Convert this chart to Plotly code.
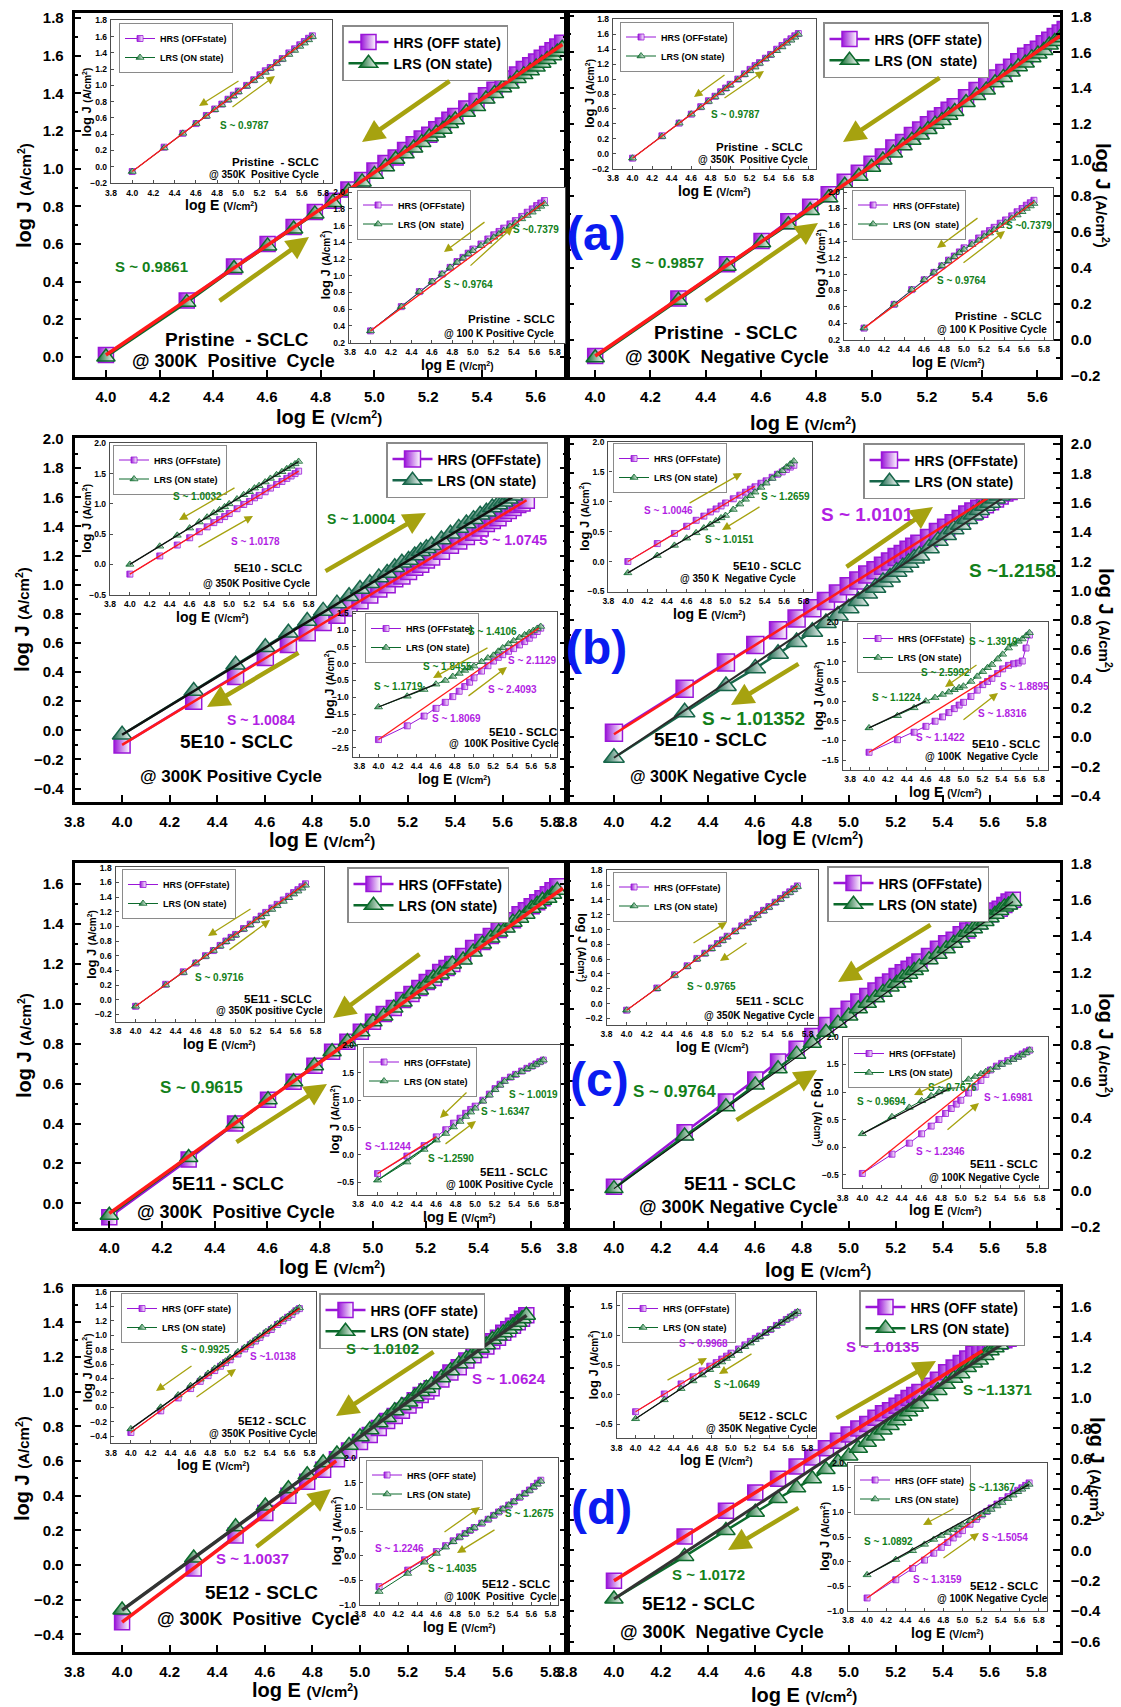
import plotly.graph_objects as go

W, H = 1121, 1707
FONT = "Liberation Sans, Arial, Helvetica, sans-serif"
PURPLE = "#9a16d8"
PURPLE_TXT = "#b21fe3"
GREEN = "#0c6a2c"
GREEN_B = "#17664a"
GREEN_TXT = "#13801a"
OLIVE = "#a6a20f"
RED = "#ff1a1a"
DARK = "#2b2b2b"
BLUE = "#0a1bf0"

# ---------------- log E grids (log10 of 1e4 ... 5e5 V/cm) ----------------
LOGE_MAIN = [4.0, 4.301, 4.477, 4.602, 4.699, 4.778, 4.845, 4.903, 4.954, 5.0,
             5.041, 5.079, 5.114, 5.146, 5.176, 5.204, 5.230, 5.255, 5.279, 5.301,
             5.342, 5.380, 5.415, 5.447, 5.477, 5.505, 5.531, 5.556, 5.580, 5.602,
             5.623, 5.643, 5.663, 5.681, 5.699]
LOGE_INSET = [4.0, 4.301, 4.477, 4.602, 4.699, 4.778, 4.845, 4.903, 4.954, 5.0,
              5.079, 5.146, 5.204, 5.255, 5.301, 5.362, 5.415, 5.477, 5.531, 5.580,
              5.623, 5.663, 5.699]

# ---------------- (a) Pristine ----------------
HRS_A_L = [0.01, 0.30, 0.48, 0.60, 0.69, 0.77, 0.83, 0.89, 0.94, 0.99, 1.03, 1.06, 1.10, 1.13, 1.16, 1.18, 1.21, 1.23, 1.26, 1.28,
           1.32, 1.36, 1.39, 1.42, 1.45, 1.48, 1.50, 1.53, 1.55, 1.57, 1.59, 1.61, 1.63, 1.65, 1.67]
LRS_A_L = [0.00, 0.29, 0.47, 0.59, 0.68, 0.76, 0.82, 0.88, 0.93, 0.97, 1.01, 1.05, 1.08, 1.11, 1.14, 1.17, 1.19, 1.21, 1.24, 1.26,
           1.30, 1.33, 1.37, 1.40, 1.43, 1.45, 1.48, 1.50, 1.52, 1.54, 1.56, 1.58, 1.60, 1.62, 1.64]
HRS_A_R = [-0.09, 0.23, 0.42, 0.55, 0.66, 0.74, 0.81, 0.88, 0.93, 0.98, 1.02, 1.07, 1.10, 1.14, 1.17, 1.20, 1.23, 1.25, 1.28, 1.30,
           1.35, 1.39, 1.42, 1.46, 1.49, 1.52, 1.55, 1.58, 1.60, 1.62, 1.65, 1.67, 1.69, 1.71, 1.73]
LRS_A_R = [-0.10, 0.22, 0.41, 0.54, 0.64, 0.72, 0.79, 0.86, 0.91, 0.96, 1.00, 1.04, 1.08, 1.11, 1.14, 1.17, 1.20, 1.22, 1.25, 1.27,
           1.32, 1.36, 1.39, 1.43, 1.46, 1.49, 1.52, 1.54, 1.57, 1.59, 1.61, 1.64, 1.66, 1.68, 1.70]
HRS_A_350 = [-0.06, 0.24, 0.41, 0.53, 0.63, 0.71, 0.77, 0.83, 0.88, 0.93, 1.00, 1.07, 1.13, 1.18, 1.22, 1.28, 1.33, 1.40, 1.45, 1.50, 1.54, 1.58, 1.61]
LRS_A_350 = [-0.06, 0.23, 0.41, 0.53, 0.62, 0.70, 0.76, 0.82, 0.87, 0.92, 0.99, 1.06, 1.11, 1.16, 1.21, 1.27, 1.32, 1.38, 1.43, 1.48, 1.52, 1.56, 1.60]
HRS_A_100 = [0.34, 0.63, 0.81, 0.93, 1.02, 1.10, 1.17, 1.22, 1.27, 1.32, 1.38, 1.44, 1.49, 1.53, 1.57, 1.62, 1.66, 1.71, 1.76, 1.80, 1.84, 1.87, 1.90]
LRS_A_100 = [0.34, 0.63, 0.81, 0.93, 1.02, 1.10, 1.16, 1.21, 1.26, 1.30, 1.36, 1.41, 1.46, 1.50, 1.54, 1.59, 1.63, 1.68, 1.72, 1.76, 1.80, 1.83, 1.86]

# ---------------- (b) 5E10 ----------------
HRS_B_L = [-0.10, 0.20, 0.37, 0.50, 0.59, 0.67, 0.74, 0.79, 0.84, 0.89, 0.93, 0.97, 1.00, 1.04, 1.06, 1.09, 1.12, 1.14, 1.17, 1.19,
           1.23, 1.27, 1.30, 1.33, 1.36, 1.39, 1.42, 1.44, 1.46, 1.49, 1.51, 1.53, 1.55, 1.56, 1.58]
LRS_B_L = [-0.03, 0.27, 0.45, 0.57, 0.67, 0.75, 0.82, 0.87, 0.92, 0.97, 1.01, 1.05, 1.08, 1.12, 1.15, 1.17, 1.20, 1.23, 1.25, 1.27,
           1.31, 1.35, 1.39, 1.42, 1.45, 1.48, 1.50, 1.53, 1.55, 1.57, 1.59, 1.61, 1.63, 1.65, 1.67]
HRS_B_350P = [-0.16, 0.14, 0.32, 0.44, 0.54, 0.62, 0.69, 0.74, 0.79, 0.84, 0.92, 0.99, 1.04, 1.10, 1.14, 1.20, 1.26, 1.32, 1.37, 1.42, 1.46, 1.50, 1.54]
LRS_B_350P = [0.00, 0.30, 0.48, 0.60, 0.70, 0.78, 0.85, 0.90, 0.95, 1.00, 1.08, 1.15, 1.20, 1.26, 1.30, 1.36, 1.42, 1.48, 1.53, 1.58, 1.62, 1.66, 1.70]
HRS_B_100P = [-2.26, -1.85, -1.56, -1.33, -1.15, -0.98, -0.82, -0.68, -0.55, -0.42, -0.22, -0.06, 0.08, 0.19, 0.27, 0.37, 0.45, 0.56, 0.66, 0.76, 0.86, 0.96, 1.06]
LRS_B_100P = [-1.29, -0.97, -0.77, -0.61, -0.50, -0.38, -0.29, -0.20, -0.13, -0.07, 0.06, 0.17, 0.25, 0.37, 0.47, 0.59, 0.68, 0.78, 0.86, 0.93, 0.99, 1.05, 1.11]
HRS_B_R = [0.03, 0.33, 0.51, 0.63, 0.73, 0.81, 0.88, 0.93, 0.98, 1.03, 1.07, 1.11, 1.14, 1.17, 1.20, 1.23, 1.25, 1.28, 1.30, 1.32,
           1.36, 1.40, 1.43, 1.46, 1.49, 1.52, 1.54, 1.56, 1.59, 1.61, 1.63, 1.65, 1.67, 1.68, 1.70]
LRS_B_R = [-0.14, 0.17, 0.35, 0.47, 0.57, 0.65, 0.72, 0.78, 0.83, 0.88, 0.93, 0.98, 1.02, 1.06, 1.09, 1.13, 1.16, 1.19, 1.22, 1.24,
           1.29, 1.34, 1.38, 1.42, 1.45, 1.49, 1.52, 1.55, 1.58, 1.60, 1.63, 1.65, 1.68, 1.70, 1.72]
HRS_B_350N = [0.00, 0.30, 0.47, 0.59, 0.69, 0.76, 0.83, 0.88, 0.93, 0.98, 1.05, 1.11, 1.16, 1.21, 1.25, 1.31, 1.35, 1.41, 1.46, 1.50, 1.54, 1.58, 1.61]
LRS_B_350N = [-0.19, 0.10, 0.27, 0.39, 0.48, 0.56, 0.62, 0.68, 0.73, 0.77, 0.87, 0.96, 1.04, 1.10, 1.16, 1.24, 1.31, 1.39, 1.46, 1.52, 1.58, 1.63, 1.68]
HRS_B_100N = [-1.30, -0.98, -0.79, -0.64, -0.51, -0.40, -0.29, -0.19, -0.10, -0.03, 0.12, 0.28, 0.42, 0.50, 0.58, 0.70, 0.82, 0.91, 0.95, 0.97, 1.02, 1.35, 1.68]
LRS_B_100N = [-0.68, -0.37, -0.17, 0.00, 0.09, 0.17, 0.23, 0.29, 0.34, 0.38, 0.50, 0.63, 0.75, 0.85, 0.93, 1.07, 1.19, 1.35, 1.45, 1.52, 1.58, 1.66, 1.74]

# ---------------- (c) 5E11 ----------------
HRS_C_L = [-0.07, 0.22, 0.40, 0.52, 0.61, 0.69, 0.76, 0.81, 0.86, 0.91, 0.95, 0.98, 1.02, 1.05, 1.08, 1.11, 1.13, 1.16, 1.18, 1.20,
           1.24, 1.28, 1.31, 1.34, 1.37, 1.40, 1.42, 1.45, 1.47, 1.49, 1.51, 1.53, 1.55, 1.57, 1.59]
LRS_C_L = [-0.06, 0.23, 0.40, 0.52, 0.61, 0.69, 0.76, 0.81, 0.86, 0.91, 0.94, 0.98, 1.01, 1.05, 1.07, 1.10, 1.13, 1.15, 1.17, 1.20,
           1.22, 1.26, 1.30, 1.33, 1.36, 1.38, 1.41, 1.43, 1.45, 1.48, 1.50, 1.52, 1.53, 1.55, 1.57]
HRS_C_350P = [-0.09, 0.21, 0.38, 0.50, 0.60, 0.67, 0.74, 0.80, 0.85, 0.89, 0.97, 1.03, 1.09, 1.14, 1.19, 1.25, 1.30, 1.36, 1.41, 1.46, 1.50, 1.54, 1.58]
LRS_C_350P = [-0.09, 0.20, 0.37, 0.50, 0.59, 0.67, 0.73, 0.79, 0.84, 0.88, 0.96, 1.02, 1.08, 1.13, 1.17, 1.23, 1.28, 1.34, 1.39, 1.44, 1.48, 1.52, 1.56]
HRS_C_100P = [-0.34, -0.02, 0.17, 0.33, 0.46, 0.58, 0.67, 0.76, 0.83, 0.89, 1.00, 1.11, 1.21, 1.29, 1.36, 1.42, 1.47, 1.53, 1.58, 1.62, 1.66, 1.70, 1.73]
LRS_C_100P = [-0.46, -0.13, 0.10, 0.27, 0.39, 0.51, 0.61, 0.70, 0.78, 0.85, 0.98, 1.09, 1.19, 1.27, 1.34, 1.41, 1.46, 1.52, 1.57, 1.61, 1.65, 1.69, 1.73]
HRS_C_R = [0.02, 0.32, 0.49, 0.61, 0.71, 0.78, 0.85, 0.91, 0.96, 1.00, 1.04, 1.07, 1.10, 1.13, 1.15, 1.18, 1.20, 1.22, 1.24, 1.26,
           1.29, 1.33, 1.36, 1.38, 1.41, 1.43, 1.46, 1.48, 1.50, 1.52, 1.54, 1.55, 1.57, 1.59, 1.60]
LRS_C_R = [0.01, 0.30, 0.46, 0.58, 0.67, 0.75, 0.81, 0.87, 0.92, 0.96, 1.00, 1.03, 1.06, 1.09, 1.12, 1.14, 1.17, 1.19, 1.21, 1.23,
           1.27, 1.30, 1.33, 1.36, 1.39, 1.42, 1.44, 1.46, 1.48, 1.50, 1.52, 1.54, 1.56, 1.57, 1.59]
HRS_C_350N = [-0.09, 0.21, 0.39, 0.51, 0.61, 0.68, 0.75, 0.81, 0.86, 0.91, 0.98, 1.05, 1.10, 1.15, 1.20, 1.26, 1.31, 1.37, 1.42, 1.47, 1.51, 1.55, 1.59]
LRS_C_350N = [-0.09, 0.20, 0.38, 0.50, 0.60, 0.67, 0.74, 0.80, 0.85, 0.90, 0.97, 1.04, 1.09, 1.14, 1.19, 1.25, 1.30, 1.36, 1.41, 1.46, 1.50, 1.54, 1.58]
HRS_C_100N = [-0.48, -0.13, 0.07, 0.24, 0.38, 0.50, 0.61, 0.70, 0.78, 0.85, 0.98, 1.09, 1.21, 1.32, 1.40, 1.47, 1.52, 1.57, 1.61, 1.65, 1.69, 1.73, 1.76]
LRS_C_100N = [0.24, 0.55, 0.72, 0.84, 0.93, 1.00, 1.05, 1.09, 1.13, 1.17, 1.23, 1.28, 1.33, 1.37, 1.40, 1.45, 1.50, 1.54, 1.59, 1.63, 1.67, 1.71, 1.76]

# ---------------- (d) 5E12 ----------------
HRS_D_L = [-0.33, -0.02, 0.17, 0.30, 0.40, 0.48, 0.55, 0.61, 0.66, 0.71, 0.75, 0.79, 0.83, 0.86, 0.89, 0.92, 0.95, 0.98, 1.00, 1.02,
           1.07, 1.11, 1.14, 1.18, 1.21, 1.24, 1.26, 1.29, 1.31, 1.34, 1.36, 1.38, 1.40, 1.42, 1.44]
LRS_D_L = [-0.26, 0.04, 0.22, 0.34, 0.44, 0.52, 0.59, 0.64, 0.69, 0.74, 0.78, 0.82, 0.85, 0.89, 0.92, 0.94, 0.97, 1.00, 1.02, 1.04,
           1.08, 1.12, 1.16, 1.19, 1.22, 1.25, 1.27, 1.30, 1.32, 1.34, 1.36, 1.38, 1.40, 1.42, 1.44]
HRS_D_350P = [-0.35, -0.05, 0.13, 0.26, 0.36, 0.44, 0.51, 0.57, 0.62, 0.66, 0.74, 0.81, 0.87, 0.92, 0.97, 1.03, 1.08, 1.15, 1.20, 1.25, 1.29, 1.34, 1.37]
LRS_D_350P = [-0.30, 0.00, 0.17, 0.30, 0.39, 0.47, 0.54, 0.59, 0.64, 0.69, 0.77, 0.83, 0.89, 0.94, 0.99, 1.05, 1.10, 1.16, 1.22, 1.26, 1.31, 1.35, 1.38]
HRS_D_100P = [-0.63, -0.29, -0.08, 0.09, 0.21, 0.31, 0.39, 0.46, 0.52, 0.58, 0.67, 0.75, 0.83, 0.90, 0.96, 1.04, 1.11, 1.20, 1.28, 1.35, 1.42, 1.49, 1.55]
LRS_D_100P = [-0.73, -0.36, -0.13, 0.05, 0.18, 0.29, 0.38, 0.45, 0.52, 0.58, 0.67, 0.75, 0.83, 0.90, 0.96, 1.04, 1.11, 1.20, 1.27, 1.34, 1.41, 1.47, 1.53]
HRS_D_R = [-0.20, 0.09, 0.26, 0.38, 0.47, 0.55, 0.61, 0.67, 0.72, 0.76, 0.80, 0.83, 0.87, 0.90, 0.92, 0.95, 0.97, 1.00, 1.02, 1.04,
           1.08, 1.12, 1.17, 1.20, 1.23, 1.26, 1.29, 1.31, 1.33, 1.35, 1.36, 1.37, 1.38, 1.39, 1.41]
LRS_D_R = [-0.32, -0.04, 0.13, 0.25, 0.34, 0.41, 0.47, 0.53, 0.58, 0.62, 0.67, 0.71, 0.75, 0.79, 0.82, 0.85, 0.88, 0.91, 0.94, 0.96,
           1.01, 1.05, 1.09, 1.13, 1.16, 1.20, 1.23, 1.25, 1.28, 1.31, 1.33, 1.35, 1.38, 1.40, 1.42]
HRS_D_350N = [-0.29, 0.01, 0.18, 0.30, 0.40, 0.48, 0.54, 0.60, 0.65, 0.70, 0.77, 0.84, 0.90, 0.95, 0.99, 1.05, 1.10, 1.17, 1.22, 1.27, 1.31, 1.35, 1.39]
LRS_D_350N = [-0.41, -0.09, 0.10, 0.23, 0.33, 0.42, 0.49, 0.55, 0.61, 0.66, 0.74, 0.81, 0.87, 0.93, 0.98, 1.04, 1.10, 1.16, 1.22, 1.27, 1.32, 1.36, 1.40]
HRS_D_100N = [-0.74, -0.37, -0.14, 0.03, 0.17, 0.29, 0.39, 0.48, 0.56, 0.63, 0.76, 0.86, 0.95, 1.02, 1.09, 1.17, 1.24, 1.32, 1.39, 1.45, 1.50, 1.55, 1.60]
LRS_D_100N = [-0.27, 0.04, 0.22, 0.35, 0.45, 0.53, 0.59, 0.65, 0.70, 0.75, 0.83, 0.89, 0.95, 1.01, 1.06, 1.13, 1.20, 1.28, 1.35, 1.42, 1.47, 1.52, 1.57]

# ---------------- linear fits (log E pair, log J pair) ----------------
FIT_A_L = ([4.0, 5.70], [0.01, 1.66])
FIT_A_R = ([4.0, 5.70], [-0.09, 1.71])
FIT_A_350 = ([4.0, 5.70], [-0.06, 1.61])
FIT_A_100 = ([4.0, 5.70], [0.34, 1.88])
FIT_B_L_H = ([4.0, 5.70], [-0.10, 1.58])
FIT_B_L_L = ([4.0, 5.70], [-0.03, 1.66])
FIT_B_350P_H = ([4.0, 5.70], [-0.16, 1.54])
FIT_B_350P_L = ([4.0, 5.70], [0.0, 1.70])
FIT_B_100P_H = ([4.0, 5.68], [-2.26, 1.06])
FIT_B_100P_L = ([4.0, 4.60], [-1.29, -0.61])
FIT_B_R_H = ([4.0, 5.60], [0.02, 1.64])
FIT_B_R_L = ([4.0, 5.70], [-0.14, 1.68])
FIT_B_350N_H = ([4.0, 5.30], [0.0, 1.26])
FIT_B_350N_L = ([4.0, 5.00], [-0.19, 0.77])
FIT_B_100N_H = ([4.0, 5.50], [-1.30, 0.93])
FIT_B_100N_L = ([4.0, 4.60], [-0.68, 0.00])
FIT_C_L = ([4.0, 5.72], [-0.05, 1.58])
FIT_C_350P = ([4.0, 5.70], [-0.09, 1.58])
FIT_C_100P_H = ([4.0, 4.60], [-0.34, 0.33])
FIT_C_100P_L = ([4.0, 4.60], [-0.46, 0.27])
FIT_C_R_L = ([4.0, 5.70], [0.01, 1.59])
FIT_C_350N = ([4.0, 5.70], [-0.09, 1.59])
FIT_C_100N_H = ([4.0, 5.30], [-0.48, 1.40])
FIT_C_100N_L = ([4.0, 5.00], [0.24, 1.17])
FIT_D_L_H = ([4.0, 4.90], [-0.33, 0.60])
FIT_D_L_L = ([4.0, 5.70], [-0.26, 1.44])
FIT_D_350P_H = ([4.0, 5.70], [-0.35, 1.37])
FIT_D_350P_L = ([4.0, 5.70], [-0.30, 1.38])
FIT_D_100P_H = ([4.0, 4.60], [-0.63, 0.09])
FIT_D_R_H = ([4.0, 5.57], [-0.20, 1.31])
FIT_D_R_L = ([4.0, 5.70], [-0.32, 1.40])
FIT_D_350N_H = ([4.0, 5.00], [-0.29, 0.70])
FIT_D_350N_L = ([4.0, 5.70], [-0.41, 1.40])
FIT_D_100N_H = ([4.0, 5.20], [-0.74, 0.95])
FIT_D_100N_L = ([4.0, 5.70], [-0.27, 1.57])

# ---------------- panel layout (pixel boxes x0, y0, x1, y1) ----------------
MAIN = [
    dict(box=(74.5, 12.7, 567, 376.7), xr=[3.883, 5.717], yr=[-0.105, 1.829], ydt=0.2, side="left",
         hrs=HRS_A_L, lrs=LRS_A_L, names=("HRS (OFF state)", "LRS (ON state)"), leg=(342, 25), ms=15, g=GREEN,
         fits=[(FIT_A_L, RED, 3.5)], xt=(329, 417), yt=(24, 195)),
    dict(box=(567, 12.7, 1060, 376.7), xr=[3.898, 5.682], yr=[-0.205, 1.82], ydt=0.2, side="right",
         hrs=HRS_A_R, lrs=LRS_A_R, names=("HRS (OFF state)", "LRS (ON  state)"), leg=(823, 22), ms=15, g=GREEN,
         fits=[(FIT_A_R, RED, 3.5)], xt=(803, 423), yt=(1103, 195)),
    dict(box=(74.5, 438.3, 567, 801.7), xr=[3.8, 5.87], yr=[-0.49, 2.005], ydt=0.2, side="left",
         hrs=HRS_B_L, lrs=LRS_B_L, names=("HRS (OFFstate)", "LRS (ON state)"), leg=(386, 442), ms=16, g=GREEN_B,
         fits=[(FIT_B_L_H, RED, 2.5), (FIT_B_L_L, "#111111", 2.5)], xt=(322, 840), yt=(22, 620)),
    dict(box=(567, 438.3, 1060, 801.7), xr=[3.8, 5.9], yr=[-0.44, 2.04], ydt=0.2, side="right",
         hrs=HRS_B_R, lrs=LRS_B_R, names=("HRS (OFFstate)", "LRS (ON state)"), leg=(863, 443), ms=17, g=GREEN_B,
         fits=[(FIT_B_R_H, RED, 2.5), (FIT_B_R_L, DARK, 2.0)], xt=(810, 838), yt=(1106, 620)),
    dict(box=(74.5, 863.3, 567, 1227.7), xr=[3.868, 5.736], yr=[-0.122, 1.705], ydt=0.2, side="left",
         hrs=HRS_C_L, lrs=LRS_C_L, names=("HRS (OFFstate)", "LRS (ON state)"), leg=(347, 867), ms=15, g=GREEN,
         fits=[(FIT_C_L, RED, 3.5)], xt=(332, 1267), yt=(24, 1045)),
    dict(box=(567, 863.3, 1060, 1227.7), xr=[3.8, 5.9], yr=[-0.205, 1.8], ydt=0.2, side="right",
         hrs=HRS_C_R, lrs=LRS_C_R, names=("HRS (OFFstate)", "LRS (ON state)"), leg=(827, 866), ms=15, g=GREEN,
         fits=[(FIT_C_R_L, "#111111", 1.2)], xt=(818, 1270), yt=(1106, 1045)),
    dict(box=(74.5, 1286.7, 567, 1651.7), xr=[3.8, 5.87], yr=[-0.5, 1.605], ydt=0.2, side="left",
         hrs=HRS_D_L, lrs=LRS_D_L, names=("HRS (OFF state)", "LRS (ON state)"), leg=(319, 1293), ms=15, g=GREEN,
         fits=[(FIT_D_L_H, RED, 3.5), (FIT_D_L_L, "#333333", 3.5)], xt=(305, 1690), yt=(22, 1469)),
    dict(box=(567, 1286.7, 1060, 1651.7), xr=[3.8, 5.9], yr=[-0.666, 1.731], ydt=0.2, side="right",
         hrs=HRS_D_R, lrs=LRS_D_R, names=("HRS (OFF state)", "LRS (ON state)"), leg=(859, 1290), ms=15, g=GREEN,
         fits=[(FIT_D_R_H, RED, 3.5), (FIT_D_R_L, "#333333", 3.0)], xt=(804, 1695), yt=(1097, 1469)),
]

INSETS = [
    dict(box=(111, 20, 331.6, 183.3), xr=[3.8, 5.88], yr=[-0.205, 1.805], ydt=0.2, hrs=HRS_A_350, lrs=LRS_A_350,
         names=("HRS (OFFstate)", "LRS (ON state)"), leg=(119, 23), fits=[(FIT_A_350, RED)], ja=-90),
    dict(box=(349, 188, 565, 343), xr=[3.79, 5.9], yr=[0.195, 2.05], ydt=0.2, hrs=HRS_A_100, lrs=LRS_A_100,
         names=("HRS (OFFstate)", "LRS (ON  state)"), leg=(357, 189.5), fits=[(FIT_A_100, RED)], ja=-90),
    dict(box=(613, 19, 816, 169), xr=[3.8, 5.88], yr=[-0.205, 1.805], ydt=0.2, hrs=HRS_A_350, lrs=LRS_A_350,
         names=("HRS (OFFstate)", "LRS (ON state)"), leg=(620, 21.5), fits=[(FIT_A_350, RED)], ja=-90),
    dict(box=(844, 188, 1053, 340), xr=[3.8, 5.89], yr=[0.195, 2.05], ydt=0.2, hrs=HRS_A_100, lrs=LRS_A_100,
         names=("HRS (OFFstate)", "LRS (ON  state)"), leg=(852, 189.5), fits=[(FIT_A_100, RED)], ja=-90),
    dict(box=(110, 443, 315.6, 595), xr=[3.8, 5.87], yr=[-0.505, 2.005], ydt=0.5, hrs=HRS_B_350P, lrs=LRS_B_350P,
         names=("HRS (OFFstate)", "LRS (ON state)"), leg=(113, 444.5), fits=[(FIT_B_350P_H, RED), (FIT_B_350P_L, "#111111")], ja=-90),
    dict(box=(352.7, 611.7, 557, 756.7), xr=[3.73, 5.87], yr=[-2.77, 1.55], ydt=0.5, hrs=HRS_B_100P, lrs=LRS_B_100P,
         names=("HRS (OFFstate)", "LRS (ON state)"), leg=(365, 613), fits=[(FIT_B_100P_H, RED), (FIT_B_100P_L, "#111111")], ja=-90),
    dict(box=(608.3, 441.7, 811.5, 591.7), xr=[3.8, 5.88], yr=[-0.505, 2.005], ydt=0.5, hrs=HRS_B_350N, lrs=LRS_B_350N,
         names=("HRS (OFFstate)", "LRS (ON state)"), leg=(613, 443), fits=[(FIT_B_350N_H, RED), (FIT_B_350N_L, "#111111")], ja=-90),
    dict(box=(842.6, 621.7, 1048.4, 770), xr=[3.72, 5.9], yr=[-1.75, 2.02], ydt=0.5, hrs=HRS_B_100N, lrs=LRS_B_100N,
         names=("HRS (OFFstate)", "LRS (ON state)"), leg=(857, 623), fits=[(FIT_B_100N_H, RED), (FIT_B_100N_L, "#111111")], ja=-90),
    dict(box=(115.6, 867.3, 323.6, 1021.7), xr=[3.8, 5.88], yr=[-0.3, 1.805], ydt=0.2, hrs=HRS_C_350P, lrs=LRS_C_350P,
         names=("HRS (OFFstate)", "LRS (ON state)"), leg=(122, 869), fits=[(FIT_C_350P, RED)], ja=-90),
    dict(box=(358, 1045, 560, 1195), xr=[3.8, 5.87], yr=[-0.73, 2.005], ydt=0.5, hrs=HRS_C_100P, lrs=LRS_C_100P,
         names=("HRS (OFFstate)", "LRS (ON state)"), leg=(363, 1046.5), fits=[(FIT_C_100P_H, RED), (FIT_C_100P_L, GREEN)], ja=-90),
    dict(box=(606.5, 870, 817.6, 1025), xr=[3.8, 5.9], yr=[-0.29, 1.805], ydt=0.2, hrs=HRS_C_350N, lrs=LRS_C_350N,
         names=("HRS (OFFstate)", "LRS (ON state)"), leg=(613, 871.5), fits=[(FIT_C_350N, RED)], ja=90),
    dict(box=(842.6, 1036.7, 1048.4, 1188.3), xr=[3.8, 5.89], yr=[-0.75, 2.005], ydt=0.5, hrs=HRS_C_100N, lrs=LRS_C_100N,
         names=("HRS (OFFstate)", "LRS (ON state)"), leg=(848, 1038), fits=[(FIT_C_100N_H, RED), (FIT_C_100N_L, "#111111")], ja=90),
    dict(box=(111, 1291.7, 316.4, 1443.3), xr=[3.8, 5.87], yr=[-0.5, 1.605], ydt=0.2, hrs=HRS_D_350P, lrs=LRS_D_350P,
         names=("HRS (OFF state)", "LRS (ON state)"), leg=(121, 1293), fits=[(FIT_D_350P_L, "#111111"), (FIT_D_350P_H, RED)], ja=-90),
    dict(box=(360, 1458, 558, 1605), xr=[3.8, 5.88], yr=[-1.005, 2.005], ydt=0.5, hrs=HRS_D_100P, lrs=LRS_D_100P,
         names=("HRS (OFF state)", "LRS (ON state)"), leg=(366, 1459.5), fits=[(FIT_D_100P_H, RED)], ja=-90),
    dict(box=(616.5, 1291.7, 815.8, 1438.3), xr=[3.8, 5.89], yr=[-0.74, 1.74], ydt=0.5, hrs=HRS_D_350N, lrs=LRS_D_350N,
         names=("HRS (OFFstate)", "LRS (ON state)"), leg=(622, 1293), fits=[(FIT_D_350N_H, RED), (FIT_D_350N_L, "#111111")], ja=-90),
    dict(box=(848, 1463, 1047.3, 1611), xr=[3.8, 5.89], yr=[-1.005, 2.005], ydt=0.5, hrs=HRS_D_100N, lrs=LRS_D_100N,
         names=("HRS (OFF state)", "LRS (ON state)"), leg=(854, 1464.5), fits=[(FIT_D_100N_H, RED), (FIT_D_100N_L, "#111111")], ja=-90),
]

G, P, K = GREEN_TXT, PURPLE_TXT, "black"
# (x px, y px, text, font size, colour)
TEXTS = [
    # (a) left
    (151, 266, "S ~ 0.9861", 15, G), (237, 339, "Pristine  - SCLC", 19, K), (233, 361, "@ 300K  Positive  Cycle", 18, K),
    (244, 125, "S ~ 0.9787", 10, G), (275, 162, "Pristine  - SCLC", 11.5, K), (264, 174, "@ 350K  Positive Cycle", 10, K),
    (468, 284, "S ~ 0.9764", 10, G), (536, 229, "S ~0.7379", 10, G), (511, 319, "Pristine  - SCLC", 11.5, K), (499, 333, "@ 100 K Positive Cycle", 10, K),
    # (a) right
    (667, 262, "S ~ 0.9857", 15, G), (726, 332, "Pristine  - SCLC", 19, K), (727, 357, "@ 300K  Negative Cycle", 18, K),
    (735, 115, "S ~ 0.9787", 10, G), (759, 147, "Pristine  - SCLC", 11.5, K), (753, 159, "@ 350K  Positive Cycle", 10, K),
    (961, 280, "S ~ 0.9764", 10, G), (1029, 225, "S ~0.7379", 10, G), (998, 316, "Pristine  - SCLC", 11.5, K), (992, 329, "@ 100 K Positive Cycle", 10, K),
    # (b) left
    (361, 519, "S ~ 1.0004", 14, G), (513, 540, "S ~ 1.0745", 14, P), (261, 720, "S ~ 1.0084", 14, P),
    (236, 741, "5E10 - SCLC", 19, K), (231, 776, "@ 300K Positive Cycle", 17, K),
    (197, 496, "S ~ 1.0032", 10, G), (255, 541, "S ~ 1.0178", 10, P), (268, 568, "5E10 - SCLC", 11.5, K), (256, 583, "@ 350K Positive Cycle", 10, K),
    (492, 631, "S ~ 1.4106", 10, G), (447, 667, "S ~ 1.8455", 10, G), (532, 660, "S ~ 2.1129", 10, P), (398, 686, "S ~ 1.1719", 10, G),
    (512, 689, "S ~ 2.4093", 10, P), (456, 718, "S ~ 1.8069", 10, P), (523, 732, "5E10 - SCLC", 11.5, K), (504, 744, "@  100K Positive Cycle", 10, K),
    # (b) right
    (867, 514, "S ~ 1.0101", 19, P), (1013, 571, "S ~1.2158", 19, G), (753, 718, "S ~ 1.01352", 19, G),
    (710, 739, "5E10 - SCLC", 19, K), (718, 777, "@ 300K Negative Cycle", 16, K),
    (668, 510, "S ~ 1.0046", 10, P), (785, 496, "S ~ 1.2659", 10, G), (729, 540, "S ~ 1.0151", 10, G),
    (767, 566, "5E10 - SCLC", 11.5, K), (738, 578, "@ 350 K  Negative Cycle", 10, K),
    (993, 642, "S ~ 1.3919", 10, G), (945, 672, "S ~ 2.5992", 10, G), (1024, 686, "S ~ 1.8895", 10, P), (896, 698, "S ~ 1.1224", 10, G),
    (1002, 713, "S ~ 1.8316", 10, P), (941, 737, "S ~ 1.1422", 10, P), (1006, 744, "5E10 - SCLC", 11.5, K), (982, 756, "@ 100K  Negative Cycle", 10, K),
    # (c) left
    (201, 1087, "S ~ 0.9615", 17, G), (228, 1183, "5E11 - SCLC", 19, K), (236, 1212, "@ 300K  Positive Cycle", 18, K),
    (219, 977, "S ~ 0.9716", 10, G), (278, 999, "5E11 - SCLC", 11.5, K), (269, 1011, "@ 350K positive Cycle", 10, K),
    (533, 1094, "S ~ 1.0019", 10, G), (505, 1111, "S ~ 1.6347", 10, G), (388, 1146, "S ~1.1244", 10, P), (451, 1158, "S ~1.2590", 10, G),
    (514, 1172, "5E11 - SCLC", 11.5, K), (499, 1184, "@ 100K Positive Cycle", 10, K),
    # (c) right
    (674, 1091, "S ~ 0.9764", 17, G), (740, 1183, "5E11 - SCLC", 19, K), (738, 1207, "@ 300K Negative Cycle", 18, K),
    (711, 986, "S ~ 0.9765", 10, G), (770, 1001, "5E11 - SCLC", 11.5, K), (759, 1015, "@ 350K Negative Cycle", 10, K),
    (952, 1087, "S ~ 0.7676", 10, G), (881, 1101, "S ~ 0.9694", 10, G), (1008, 1097, "S ~ 1.6981", 10, P), (940, 1151, "S ~ 1.2346", 10, P),
    (1004, 1164, "5E11 - SCLC", 11.5, K), (984, 1177, "@ 100K Negative Cycle", 10, K),
    # (d) left
    (382, 1348, "S ~ 1.0102", 15, G), (509, 1378, "S ~ 1.0624", 15, P), (252, 1558, "S ~ 1.0037", 15, P),
    (261, 1592, "5E12 - SCLC", 19, K), (258, 1619, "@ 300K  Positive  Cycle", 18, K),
    (205, 1349, "S ~ 0.9925", 10, G), (273, 1356, "S ~1.0138", 10, P), (272, 1421, "5E12 - SCLC", 11.5, K), (262, 1433, "@ 350K Positive Cycle", 10, K),
    (529, 1513, "S ~ 1.2675", 10, G), (399, 1548, "S ~ 1.2246", 10, P), (452, 1568, "S ~ 1.4035", 10, G),
    (516, 1584, "5E12 - SCLC", 11.5, K), (500, 1596, "@ 100K  Positive  Cycle", 10, K),
    # (d) right
    (882, 1346, "S ~ 1.0135", 15, P), (997, 1389, "S ~1.1371", 15, G), (708, 1574, "S ~ 1.0172", 15, G),
    (698, 1603, "5E12 - SCLC", 19, K), (722, 1632, "@ 300K  Negative Cycle", 18, K),
    (703, 1343, "S ~ 0.9968", 10, P), (737, 1384, "S ~1.0649", 10, G), (773, 1416, "5E12 - SCLC", 11.5, K), (761, 1428, "@ 350K Negative Cycle", 10, K),
    (992, 1487, "S ~1.1367", 10, G), (888, 1541, "S ~ 1.0892", 10, G), (1005, 1537, "S ~1.5054", 10, P), (937, 1579, "S ~ 1.3159", 10, P),
    (1004, 1586, "5E12 - SCLC", 11.5, K), (992, 1598, "@ 100K Negative Cycle", 10, K),
]

PANEL_TAGS = [(596, 233, "(a)"), (596, 647, "(b)"), (599, 1079, "(c)"), (601, 1507, "(d)")]

# (tail px, head px)
ARROWS_BIG = [
    ((218, 302), (309, 237)), ((451, 80), (362, 142)),
    ((704, 302), (818, 223)), ((941, 77), (843, 142)),
    ((324, 572), (426, 513)), ((300, 652), (207, 707)),
    ((845, 568), (933, 507)), ((800, 663), (731, 705)),
    ((235, 1143), (327, 1084)), ((421, 953), (333, 1018)),
    ((735, 1121), (817, 1070)), ((932, 924), (838, 982)),
    ((435, 1351), (336, 1416)), ((255, 1548), (331, 1489)),
    ((835, 1419), (936, 1361)), ((800, 1507), (728, 1550)),
]
ARROWS_SMALL = [
    ((240, 80), (199, 106)), ((231, 108), (275, 76)), ((486, 221), (444, 252)), ((469, 267), (513, 227)),
    ((726, 74), (694, 97)), ((723, 99), (764, 71)), ((979, 217), (937, 248)), ((962, 264), (1005, 231)),
    ((236, 487), (179, 520)), ((197, 548), (253, 516)), ((489, 647), (433, 678)), ((467, 697), (507, 667)),
    ((688, 504), (742, 473)), ((761, 506), (722, 530)), ((978, 664), (945, 687)), ((962, 721), (998, 693)),
    ((252, 908), (208, 936)), ((228, 951), (270, 920)), ((468, 1091), (440, 1118)), ((444, 1145), (476, 1121)),
    ((692, 944), (727, 922)), ((748, 942), (720, 961)), ((952, 1077), (914, 1095)), ((946, 1131), (979, 1103)),
    ((193, 1365), (156, 1391)), ((195, 1398), (236, 1369)), ((443, 1533), (480, 1507)), ((496, 1529), (457, 1553)),
    ((666, 1381), (707, 1358)), ((753, 1353), (719, 1374)), ((955, 1508), (923, 1525)), ((942, 1559), (979, 1533)),
]

J_MAIN = "log J <span style='font-size:15px'>(A/cm<sup>2</sup>)</span>"
E_MAIN = "log E <span style='font-size:15px'>(V/cm<sup>2</sup>)</span>"
J_IN = "log J <span style='font-size:10px'>(A/cm<sup>2</sup>)</span>"
E_IN = "log E <span style='font-size:10px'>(V/cm<sup>2</sup>)</span>"

# ---------------- build ----------------
fig = go.Figure()
layout = {}
annos = []
counters = {"ax": 0, "leg": 0}


def pxx(x):
    return x / W


def pxy(y):
    return 1.0 - y / H


def make_axes(box, xr, yr, ydt, main, side="left"):
    counters["ax"] += 1
    n = counters["ax"]
    s = "" if n == 1 else str(n)
    x0, y0, x1, y1 = box
    lc = "black" if main else "#4d4d4d"
    lw = 2.6 if main else 1.4
    tfont = dict(family=FONT, size=15 if main else 8.5, color="black", weight="bold")
    common = dict(showline=True, linecolor=lc, linewidth=lw, ticks="inside", ticklen=7 if main else 3,
                  tickwidth=2 if main else 1, tickcolor=lc, tickfont=tfont, showgrid=False, zeroline=False,
                  tickformat=".1f", tick0=0)
    layout["xaxis" + s] = dict(common, domain=[pxx(x0), pxx(x1)], range=xr, dtick=0.2, anchor="y" + s,
                               mirror=True, tickangle=0, ticklabelstandoff=4 if main else 1)
    ya = dict(common, domain=[pxy(y1), pxy(y0)], range=yr, dtick=ydt, anchor="x" + s, side=side,
              mirror="ticks" if main else True, ticklabelstandoff=5 if main else 1)
    if main:
        ya["minor"] = dict(ticks="inside", ticklen=4, tickwidth=1.5, tickcolor="black", dtick=ydt / 2)
    layout["yaxis" + s] = ya
    return "x" + s, "y" + s


def make_legend(pos, main):
    counters["leg"] += 1
    n = counters["leg"]
    key = "legend" if n == 1 else "legend%d" % n
    layout[key] = dict(x=pxx(pos[0]), y=pxy(pos[1]), xanchor="left", yanchor="top", bgcolor="white",
                       bordercolor="#8a8a8a", borderwidth=1.5 if main else 1,
                       font=dict(family=FONT, size=14 if main else 9, color="black", weight="bold"),
                       itemwidth=40 if main else 30, tracegroupgap=0)
    return key


def add_pair(xa, ya, leg, xs, hrs, lrs, names, main, ms, green):
    for ys, name, color, sym, sz in ((hrs, names[0], PURPLE, "square", ms),
                                     (lrs, names[1], green, "triangle-up", ms + 1)):
        fig.add_trace(go.Scatter(
            x=xs, y=ys, name=name, mode="lines+markers", xaxis=xa, yaxis=ya, legend=leg,
            line=dict(color=color, width=2.5 if main else 1),
            marker=dict(symbol=sym, size=sz, color=color,
                        line=dict(color=color, width=1.5 if main else 0.8),
                        gradient=dict(type="horizontal", color="white"))))


def add_fit(xa, ya, fit, color, width):
    fig.add_trace(go.Scatter(x=fit[0], y=fit[1], mode="lines", xaxis=xa, yaxis=ya, showlegend=False,
                             line=dict(color=color, width=width), hoverinfo="skip"))


def text(x, y, s, size, color="black", angle=0):
    annos.append(dict(x=pxx(x), y=pxy(y), xref="paper", yref="paper", text=s, showarrow=False,
                      font=dict(family=FONT, size=size, color=color, weight="bold"), textangle=angle,
                      xanchor="center", yanchor="middle"))


def arrow(tail, head, main):
    annos.append(dict(x=pxx(head[0]), y=pxy(head[1]), xref="paper", yref="paper",
                      ax=tail[0] - head[0], ay=tail[1] - head[1], axref="pixel", ayref="pixel",
                      text="", showarrow=True, arrowhead=2, arrowsize=1.0 if main else 1.3,
                      arrowwidth=4.5 if main else 1.3, arrowcolor=OLIVE))


for p in MAIN:
    xa, ya = make_axes(p["box"], p["xr"], p["yr"], p["ydt"], True, p["side"])
    leg = make_legend(p["leg"], True)
    add_pair(xa, ya, leg, LOGE_MAIN, p["hrs"], p["lrs"], p["names"], True, p["ms"], p["g"])
    for fit, col, w in p["fits"]:
        add_fit(xa, ya, fit, col, w)
    text(p["xt"][0], p["xt"][1], E_MAIN, 20)
    text(p["yt"][0], p["yt"][1], J_MAIN, 20, angle=(90 if p["side"] == "right" else -90))

for p in INSETS:
    xa, ya = make_axes(p["box"], p["xr"], p["yr"], p["ydt"], False)
    leg = make_legend(p["leg"], False)
    add_pair(xa, ya, leg, LOGE_INSET, p["hrs"], p["lrs"], p["names"], False, 6, GREEN)
    for fit, col in p["fits"]:
        add_fit(xa, ya, fit, col, 1.3)
    x0, y0, x1, y1 = p["box"]
    text((x0 + x1) / 2, y1 + 22, E_IN, 14)
    text(x0 - 24, (y0 + y1) / 2, J_IN, 13, angle=p["ja"])

for t in TEXTS:
    text(*t)
for x, y, s in PANEL_TAGS:
    text(x, y, s, 48, BLUE)
for tail, head in ARROWS_BIG:
    arrow(tail, head, True)
for tail, head in ARROWS_SMALL:
    arrow(tail, head, False)

layout.update(dict(width=W, height=H, autosize=False, margin=dict(l=0, r=0, t=0, b=0),
                   paper_bgcolor="white", plot_bgcolor="white", template="none", showlegend=True,
                   annotations=annos, font=dict(family=FONT, color="black")))
fig.update_layout(**layout)
fig.write_html("out.html")
